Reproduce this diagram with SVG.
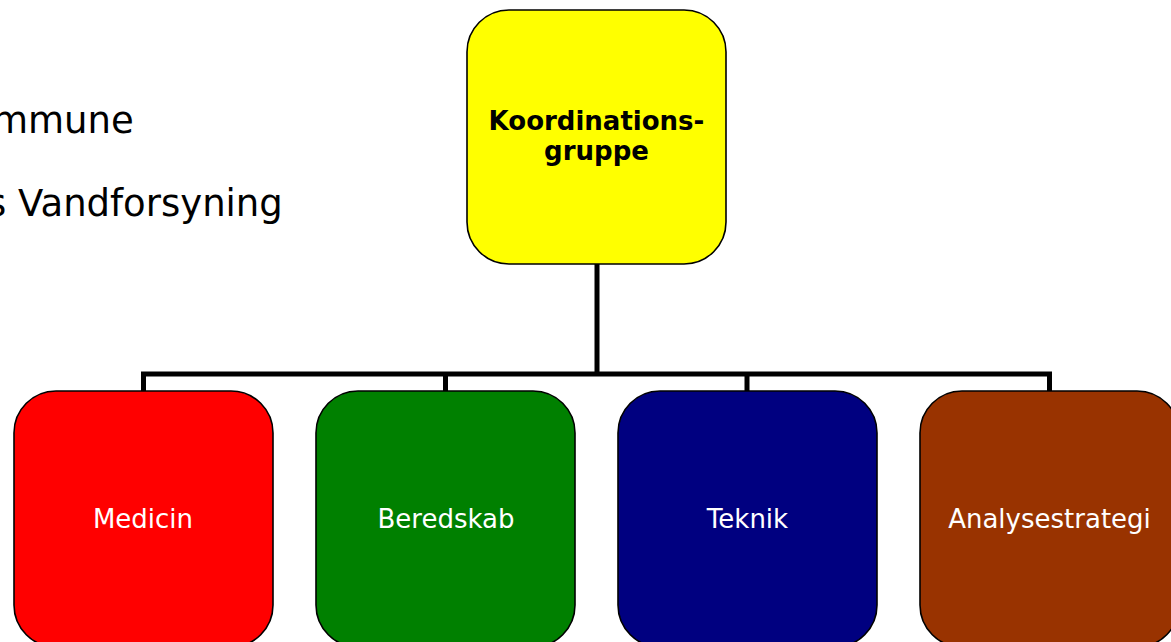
<svg xmlns="http://www.w3.org/2000/svg" width="1171" height="642" viewBox="0 0 1171 642">
<style>
.box{stroke:#000;stroke-width:1.6}
.lbl{font-family:"DejaVu Sans",Verdana,sans-serif;font-size:26px;fill:#fff;text-anchor:middle}
.head{font-family:"DejaVu Sans",Verdana,sans-serif;font-size:26px;font-weight:bold;fill:#000;text-anchor:middle}
.side{font-family:"DejaVu Sans",Verdana,sans-serif;font-size:37px;fill:#000}
.conn{fill:none;stroke:#000;stroke-width:5;stroke-linejoin:miter}
</style>
<rect width="1171" height="642" fill="#fff"/>
<g id="background-text">
<text class="side" x="-8" y="133">mmune</text>
<text class="side" x="-13" y="216">s Vandforsyning</text>
</g>
<g id="connectors">
<path class="conn" d="M597 264 V374 M143.5 391 V374 H1049.5 V391 M445.5 374 V391 M747 374 V391"/>
</g>
<g id="koordinationsgruppe">
<rect class="box" x="467" y="10" width="259" height="254" rx="42" ry="42" fill="#ffff00"/>
<text class="head" x="596.5" y="130">Koordinations-</text>
<text class="head" x="596.5" y="160">gruppe</text>
</g>
<g id="medicin">
<rect class="box" x="14" y="391" width="259" height="256" rx="42" ry="42" fill="#ff0000"/>
<text class="lbl" x="143" y="528">Medicin</text>
</g>
<g id="beredskab">
<rect class="box" x="316" y="391" width="259" height="256" rx="42" ry="42" fill="#008000"/>
<text class="lbl" x="446" y="528">Beredskab</text>
</g>
<g id="teknik">
<rect class="box" x="618" y="391" width="259" height="256" rx="42" ry="42" fill="#000080"/>
<text class="lbl" x="747.5" y="528">Teknik</text>
</g>
<g id="analysestrategi">
<rect class="box" x="920" y="391" width="259" height="256" rx="42" ry="42" fill="#993300"/>
<text class="lbl" x="1049.5" y="528">Analysestrategi</text>
</g>
</svg>
